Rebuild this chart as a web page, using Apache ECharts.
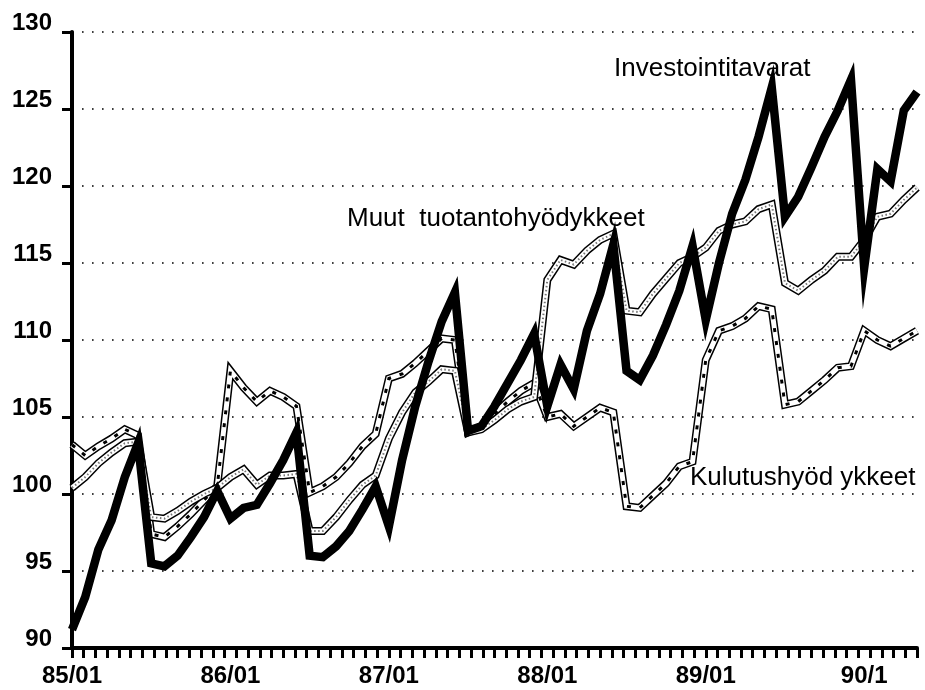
<!DOCTYPE html>
<html>
<head>
<meta charset="utf-8">
<script src="https://cdn.jsdelivr.net/npm/echarts@6/dist/echarts.min.js"></script>
<style>
html,body{margin:0;padding:0;background:#fff;}
#chart{width:925px;height:690px;}
</style>
</head>
<body>
<div id="chart"></div>
<script>
const months = [
'85/01','85/02','85/03','85/04','85/05','85/06','85/07','85/08','85/09','85/10','85/11','85/12',
'86/01','86/02','86/03','86/04','86/05','86/06','86/07','86/08','86/09','86/10','86/11','86/12',
'87/01','87/02','87/03','87/04','87/05','87/06','87/07','87/08','87/09','87/10','87/11','87/12',
'88/01','88/02','88/03','88/04','88/05','88/06','88/07','88/08','88/09','88/10','88/11','88/12',
'89/01','89/02','89/03','89/04','89/05','89/06','89/07','89/08','89/09','89/10','89/11','89/12',
'90/1','90/2','90/3','90/4','90/5'
];

const investointitavarat = [
91.2, 93.3, 96.4, 98.3, 101.1, 103.3,
95.5, 95.3, 96.0, 97.2, 98.5, 100.2,
98.4, 99.1, 99.3, 100.7, 102.2, 104.0,
96.0, 95.9, 96.6, 97.6, 99.0, 100.5,
97.9, 102.2, 105.7, 108.6, 111.2, 113.1,
104.1, 104.4, 105.7, 107.2, 108.7, 110.4,
105.7, 108.4, 106.8, 110.6, 113.0, 116.2,
108.0, 107.4, 109.0, 111.0, 113.2, 116.1,
111.3, 115.0, 118.2, 120.4, 123.2, 126.4,
118.0, 119.3, 121.2, 123.2, 124.9, 126.9,
114.7, 121.1, 120.3, 124.9, 126.1
];

const muutTuotantohyodykkeet = [
100.4, 101.1, 102.0, 102.7, 103.3, 103.4,
98.5, 98.4, 98.9, 99.5, 100.0, 100.4,
101.1, 101.6, 100.6, 101.2, 101.2, 101.3,
97.6, 97.6, 98.5, 99.6, 100.6, 101.2,
103.6, 105.3, 106.6, 107.3, 108.1, 108.0,
104.0, 104.2, 104.8, 105.5, 106.0, 106.3,
113.9, 115.2, 114.9, 115.8, 116.5, 116.9,
111.9, 111.8, 113.0, 114.0, 115.0, 115.4,
116.0, 117.1, 117.5, 117.7, 118.5, 118.8,
113.7, 113.2, 113.9, 114.5, 115.4, 115.4,
116.5, 118.0, 118.2, 119.1, 119.9
];

const kulutushyodykkeet = [
103.2, 102.5, 103.1, 103.6, 104.2, 103.8,
97.4, 97.2, 97.9, 98.7, 99.6, 100.5,
108.0, 106.9, 106.0, 106.7, 106.3, 105.7,
100.1, 100.5, 101.1, 102.0, 103.1, 103.9,
107.5, 107.8, 108.5, 109.3, 110.1, 110.0,
104.0, 104.4, 105.2, 106.0, 106.7, 107.2,
105.0, 105.2, 104.4, 105.0, 105.6, 105.3,
99.2, 99.1, 99.9, 100.7, 101.8, 102.1,
108.7, 110.6, 110.9, 111.4, 112.2, 112.0,
105.8, 106.0, 106.7, 107.4, 108.2, 108.3,
110.6, 110.0, 109.6, 110.1, 110.6
];

const yTicks = { min: 90, max: 130, step: 5 };
const labels = {
  inv: 'Investointitavarat',
  muut: 'Muut  tuotantohyödykkeet',
  kul: 'Kulutushyöd ykkeet'
};

const FONT = '"Liberation Sans", Arial, Helvetica, sans-serif';
const chart = echarts.init(document.getElementById('chart'), null, { renderer: 'canvas' });

function layer(data, color, width, type, z) {
  return {
    type: 'line', data: data, xAxisIndex: 0, yAxisIndex: 0,
    symbol: 'none', silent: true, z: z,
    lineStyle: { color: color, width: width, type: type || 'solid', join: 'miter', cap: 'butt' }
  };
}

chart.setOption({
  animation: false,
  backgroundColor: '#fff',
  grid: { left: 72, right: 8, top: 32, bottom: 42 },
  xAxis: [
    {
      type: 'category', data: months, boundaryGap: false,
      axisLine: { show: true, lineStyle: { color: '#000', width: 4 } },
      axisTick: { show: false },
      axisLabel: {
        interval: 11, color: '#000', fontSize: 24, fontWeight: 'bold', fontFamily: FONT,
        margin: 16, lineHeight: 24
      },
      splitLine: { show: false }
    },
    {
      type: 'value', min: 0, max: 72, interval: 1, position: 'bottom',
      axisLine: { show: false },
      axisTick: { show: true, length: 10, lineStyle: { color: '#000', width: 3 } },
      axisLabel: { show: false },
      splitLine: { show: false }
    }
  ],
  yAxis: {
    type: 'value', min: yTicks.min, max: yTicks.max, interval: yTicks.step,
    axisLine: { show: true, lineStyle: { color: '#000', width: 4 } },
    axisTick: { show: true, length: 10, lineStyle: { color: '#000', width: 3 } },
    axisLabel: {
      color: '#000', fontSize: 24, fontWeight: 'bold', fontFamily: FONT, margin: 20,
      verticalAlign: 'bottom', lineHeight: 18
    },
    splitLine: {
      show: true,
      lineStyle: { color: '#000', width: 1.6, type: [1.6, 8.4] }
    }
  },
  series: [
    layer(kulutushyodykkeet, '#000', 8, 'solid', 2),
    layer(kulutushyodykkeet, '#fff', 5, 'solid', 3),
    layer(kulutushyodykkeet, '#000', 3, [4, 9], 4),
    layer(muutTuotantohyodykkeet, '#000', 8, 'solid', 5),
    layer(muutTuotantohyodykkeet, '#fff', 5, 'solid', 6),
    layer(muutTuotantohyodykkeet, '#777', 2, [1.5, 2.5], 7),
    layer(investointitavarat, '#000', 8.5, 'solid', 8)
  ],
  graphic: [
    { type: 'text', x: 614, y: 69, z: 20,
      style: { text: labels.inv, fill: '#000', fontSize: 26, fontFamily: FONT, verticalAlign: 'middle' } },
    { type: 'text', x: 347, y: 219, z: 20,
      style: { text: labels.muut, fill: '#000', fontSize: 26, fontFamily: FONT, verticalAlign: 'middle' } },
    { type: 'text', x: 690, y: 478, z: 20,
      style: { text: labels.kul, fill: '#000', fontSize: 26, fontFamily: FONT, verticalAlign: 'middle' } }
  ]
});
</script>
</body>
</html>
